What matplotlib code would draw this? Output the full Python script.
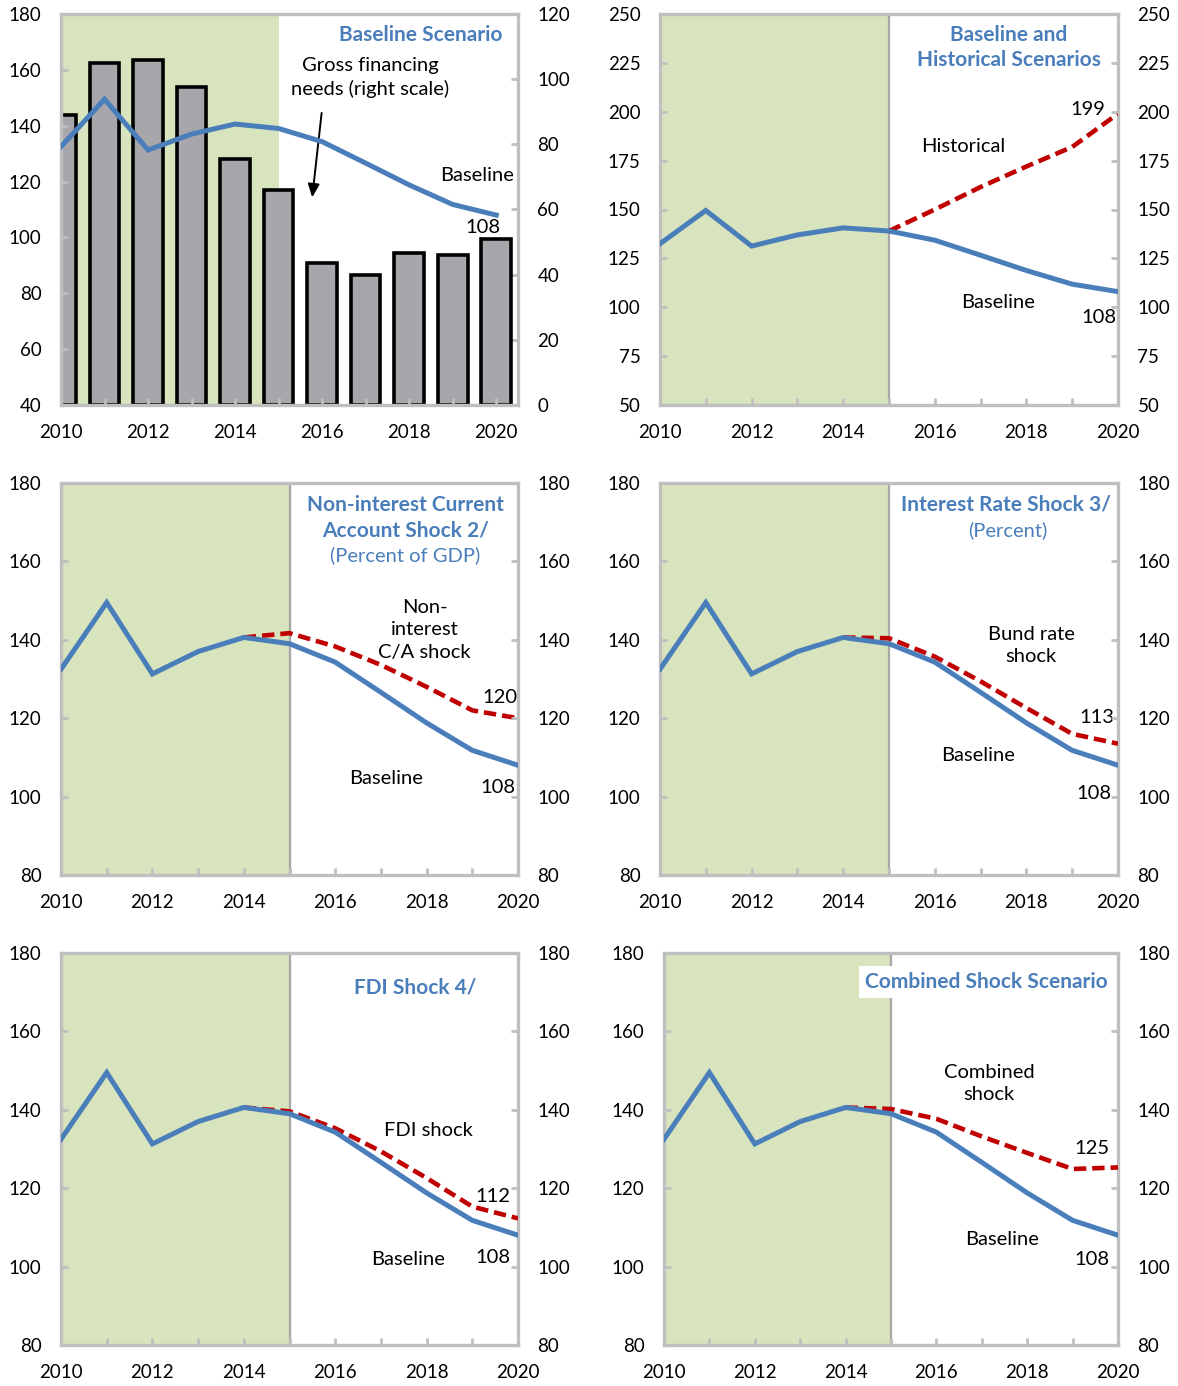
import numpy as np
import matplotlib
matplotlib.use("Agg")
import matplotlib.pyplot as plt

plt.rcParams['font.family'] = ['Lato', 'DejaVu Sans']

# Data
years = np.arange(2010, 2021)
year_labels = [str(y) if y % 2 == 0 else '' for y in years]

baseline = [132.5, 149.5, 131.3, 137.0, 140.6, 139.0, 134.3, 126.6, 118.8, 111.8, 108.0]
gross_financing = [89.0, 105.0, 106.0, 97.5, 75.5, 66.0, 43.5, 40.0, 46.5, 46.0, 51.0]  # right scale
nan = np.nan
historical = [nan, nan, nan, nan, nan, 139.0, 150.0, 161.5, 172.0, 182.0, 199.0]
noninterest_ca = [nan, nan, nan, nan, 140.6, 141.7, 138.3, 133.6, 128.0, 122.0, 120.0]
interest_rate = [nan, nan, nan, nan, 140.6, 140.4, 135.7, 129.4, 122.6, 116.0, 113.5]
fdi_shock = [nan, nan, nan, nan, 140.6, 139.6, 135.3, 129.4, 122.6, 115.3, 112.3]
combined = [nan, nan, nan, nan, 140.6, 140.2, 137.7, 133.2, 129.0, 124.9, 125.3]

projection_start = 2015

# Colours
BLUE = '#4A7EBB'
RED = '#C00000'
GREEN = '#D7E4BD'
FRAME = '#BFBFBF'
DIVIDER = '#A6A6A6'
BAR = '#A6A6AB'
FS = 13.5      # tick labels
FS_T = 14.5    # annotations
FS_H = 15      # panel titles

fig = plt.figure(figsize=(11.78, 13.86), dpi=100)

W, H = 1178, 1386


def make_axes(left, top, right, bottom):
    return fig.add_axes([left / W, 1 - bottom / H, (right - left) / W, (bottom - top) / H])


def style(ax, right=False):
    for s in ax.spines.values():
        s.set_color(FRAME)
        s.set_linewidth(2.4)
    ax.tick_params(axis='both', direction='in', color=FRAME, width=2, length=5,
                   labelsize=FS, pad=14)
    if right:
        for s in ax.spines.values():
            s.set_visible(False)


def twin_right(ax, ylim, yticks):
    ax_r = ax.twinx()
    ax_r.set_ylim(ylim)
    ax_r.set_yticks(yticks)
    style(ax_r, right=True)
    return ax_r


def plot_baseline(ax, x):
    ax.plot(x, baseline, color=BLUE, lw=3.6, solid_joinstyle='miter', zorder=4)


def plot_shock(ax, x, values):
    ax.plot(x, values, color=RED, lw=3.3, dashes=(2.7, 1.3), dash_capstyle='butt', zorder=3)


def txt(ax, x, y, s, **kw):
    opts = dict(transform=ax.transAxes, ha='center', va='center', fontsize=FS_T,
                color='black', linespacing=1.4)
    opts.update(kw)
    ax.text(x, y, s, **opts)


def title(ax, x, y, s, bold=True, **kw):
    txt(ax, x, y, s, color=BLUE, fontweight='bold' if bold else 'normal',
        fontsize=FS_H if bold else FS_T, linespacing=1.35, **kw)


def line_panel(ax, ylim, yticks):
    ax.axvspan(years[0], projection_start, color=GREEN, lw=0, zorder=0)
    ax.axvline(projection_start, color=DIVIDER, lw=1.6, zorder=1)
    ax.set_xlim(years[0], years[-1])
    ax.set_xticks(years)
    ax.set_xticklabels(year_labels)
    ax.set_ylim(ylim)
    ax.set_yticks(yticks)
    style(ax)
    twin_right(ax, ylim, yticks)
    plot_baseline(ax, years)


# ---- Panel 1: Baseline scenario with gross financing needs (bars) ----
ax1 = make_axes(61, 14, 518, 405)
ax1b = ax1.twinx()
cat = np.arange(len(years))
ax1b.axvspan(0, 5, color=GREEN, lw=0, zorder=0)
ax1b.bar(cat, gross_financing, width=0.68, color=BAR, edgecolor='black', lw=2.6, zorder=2)
ax1b.set_ylim(0, 120)
ax1b.set_yticks(np.arange(0, 121, 20))
style(ax1b, right=True)
ax1.set_zorder(ax1b.get_zorder() + 1)
ax1.patch.set_visible(False)
ax1.set_xlim(0, 10.5)
ax1.set_xticks(cat)
ax1.set_xticklabels(year_labels)
ax1.set_ylim(40, 180)
ax1.set_yticks(np.arange(40, 181, 20))
style(ax1)
plot_baseline(ax1, cat)
title(ax1, 0.967, 0.946, 'Baseline Scenario', ha='right')
txt(ax1, 0.676, 0.838, 'Gross financing\nneeds (right scale)')
ax1.annotate('', xy=(0.549, 0.524), xycoords='axes fraction',
             xytext=(0.571, 0.754), textcoords='axes fraction',
             arrowprops=dict(arrowstyle='-|>,head_length=0.8,head_width=0.35',
                             color='black', lw=1.4))
txt(ax1, 0.910, 0.586, 'Baseline')
txt(ax1, 0.923, 0.453, '108')

# ---- Panel 2: Baseline and historical ----
ax2 = make_axes(660, 14, 1118, 405)
line_panel(ax2, (50, 250), np.arange(50, 251, 25))
plot_shock(ax2, years, historical)
title(ax2, 0.762, 0.914, 'Baseline and\nHistorical Scenarios')
txt(ax2, 0.662, 0.660, 'Historical')
txt(ax2, 0.934, 0.757, '199')
txt(ax2, 0.738, 0.263, 'Baseline')
txt(ax2, 0.959, 0.223, '108')

# ---- Panel 3: Non-interest current account shock ----
ax3 = make_axes(61, 483, 518, 875)
line_panel(ax3, (80, 180), np.arange(80, 181, 20))
plot_shock(ax3, years, noninterest_ca)
title(ax3, 0.753, 0.912, 'Non-interest Current\nAccount Shock 2/')
title(ax3, 0.753, 0.816, '(Percent of GDP)', bold=False)
txt(ax3, 0.796, 0.625, 'Non-\ninterest\nC/A shock')
txt(ax3, 0.961, 0.454, '120')
txt(ax3, 0.711, 0.247, 'Baseline')
txt(ax3, 0.956, 0.222, '108')

# ---- Panel 4: Interest rate shock ----
ax4 = make_axes(660, 483, 1118, 875)
line_panel(ax4, (80, 180), np.arange(80, 181, 20))
plot_shock(ax4, years, interest_rate)
title(ax4, 0.755, 0.944, 'Interest Rate Shock 3/')
title(ax4, 0.760, 0.880, '(Percent)', bold=False)
txt(ax4, 0.810, 0.585, 'Bund rate\nshock')
txt(ax4, 0.954, 0.401, '113')
txt(ax4, 0.694, 0.306, 'Baseline')
txt(ax4, 0.948, 0.209, '108')

# ---- Panel 5: FDI shock ----
ax5 = make_axes(61, 953, 518, 1345)
line_panel(ax5, (80, 180), np.arange(80, 181, 20))
plot_shock(ax5, years, fdi_shock)
title(ax5, 0.775, 0.913, 'FDI Shock 4/')
txt(ax5, 0.805, 0.548, 'FDI shock')
txt(ax5, 0.945, 0.380, '112')
txt(ax5, 0.759, 0.217, 'Baseline')
txt(ax5, 0.945, 0.222, '108')

# ---- Panel 6: Combined shock ----
ax6 = make_axes(664, 953, 1118, 1345)
line_panel(ax6, (80, 180), np.arange(80, 181, 20))
plot_shock(ax6, years, combined)
title(ax6, 0.709, 0.926, 'Combined Shock Scenario',
      bbox=dict(facecolor='white', edgecolor='none', pad=4), zorder=6)
txt(ax6, 0.716, 0.667, 'Combined\nshock')
txt(ax6, 0.943, 0.500, '125')
txt(ax6, 0.744, 0.268, 'Baseline')
txt(ax6, 0.943, 0.217, '108')

fig.savefig('out.png', dpi=100)
